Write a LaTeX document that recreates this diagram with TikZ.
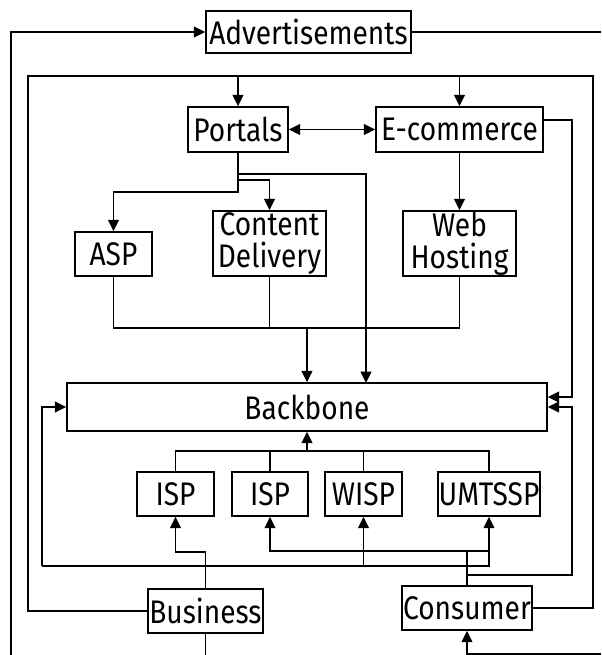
\documentclass[tikz,border=0pt]{standalone}
\usepackage{fontspec}
\setmainfont{Fira Sans}[FakeStretch=0.86]
\usetikzlibrary{arrows.meta}

\begin{document}
\begin{tikzpicture}[x=0.75pt, y=-0.75pt, line width=1.15pt,
    >={Triangle[length=8.5pt,width=8pt]},
    every node/.style={font=\fontsize{24.5}{24}\selectfont},
    box/.style={draw, line width=1.1pt, inner sep=0pt, align=center, minimum height=44*0.75pt}]
  \useasboundingbox (0,0) rectangle (601,655);

  \node[box, minimum width=205*0.75pt, minimum height=42*0.75pt] (ads) at (308.5,32) {Advertisements};
  \node[box, minimum width=100*0.75pt, minimum height=45*0.75pt] (portals) at (238,129.5) {Portals};
  \node[box, minimum width=167*0.75pt, minimum height=45*0.75pt] (ecom) at (459.5,129.5) {E-commerce};
  \node[box, minimum width=77*0.75pt] (asp) at (113.5,254) {ASP};
  \node[box, minimum width=113*0.75pt, minimum height=65*0.75pt] (cd) at (269.5,243.5) {Content\\Delivery};
  \node[box, minimum width=113*0.75pt, minimum height=65*0.75pt] (wh) at (459.5,243.5) {Web\\Hosting};
  \node[box, minimum width=480*0.75pt, minimum height=48*0.75pt] (backbone) at (307,407) {Backbone};
  \node[box, minimum width=77*0.75pt] (isp1) at (175.5,494) {ISP};
  \node[box, minimum width=76*0.75pt] (isp2) at (270,494) {ISP};
  \node[box, minimum width=77*0.75pt] (wisp) at (363.5,494) {WISP};
  \node[box, minimum width=102*0.75pt] (umts) at (489,494) {UMTSSP};
  \node[box, minimum width=115*0.75pt] (biz) at (205.5,611) {Business};
  \node[box, minimum width=130*0.75pt] (cons) at (467,608) {Consumer};

  \coordinate (outerBL) at (11,655);
  \coordinate (adsR) at (601,32);
  \coordinate (frame) at (28,76);
  \coordinate (frameR) at (593,76);
  \coordinate (pa) at (238,192);
  \coordinate (pc) at (238,180);
  \coordinate (pb) at (238,174);
  \coordinate (pbb) at (366,383);
  \coordinate (jn) at (307,328);
  \coordinate (er) at (572,397);
  \coordinate (tr) at (307,451);
  \coordinate (bj) at (205.5,552);
  \coordinate (bl) at (42,566);
  \coordinate (cj) at (467,551);
  \coordinate (ck) at (467,575);
  \coordinate (cr) at (572,407);
  \coordinate (bizOut) at (205.5,655);
  \coordinate (consIn) at (601,654);

  \draw[->] (outerBL) |- (ads.west);
  \draw (ads.east) -- (adsR);
  \draw (biz.west) -| (frame) -- (frameR) |- (cons.east);
  \draw[->] (portals.north |- frame) -- (portals.north);
  \draw[->] (ecom.north |- frame) -- (ecom.north);
  \draw[<->] (portals) -- (ecom);

  \draw[->] (portals.south) -- (pa) -| (asp.north);
  \draw[->] (pc) -| (cd.north);
  \draw[->] (pb) -| (pbb);
  \draw[->] (ecom.south) -- (wh.north);
  \draw (asp.south) |- (jn) -| (wh.south);
  \draw (cd.south) -- (cd.south |- jn);
  \draw[->] (jn) -- (backbone.north);
  \draw[->] ([yshift=7.1pt]ecom.east) -| (er) -- (er -| backbone.east);

  \draw (isp1.north) |- (tr) -| (umts.north);
  \draw (isp2.north) -- (isp2.north |- tr);
  \draw (wisp.north) -- (wisp.north |- tr);
  \draw[->] (tr) -- (backbone.south);

  \draw[->] (biz.north) -- (bj) -| (isp1.south);
  \draw[->] (bl) |- (backbone.west);
  \draw[->] (bl) -| (umts.south);
  \draw[->] (wisp.south |- bl) -- (wisp.south);
  \draw (biz.south) -- (bizOut);

  \draw[->] (cons.north) -- (cj) -| (isp2.south);
  \draw (cj) -- (cj -| umts.south);
  \draw[->] (ck) -| (cr) -- (backbone.east);
  \draw[->] (consIn) -| (cons.south);
\end{tikzpicture}
\end{document}
